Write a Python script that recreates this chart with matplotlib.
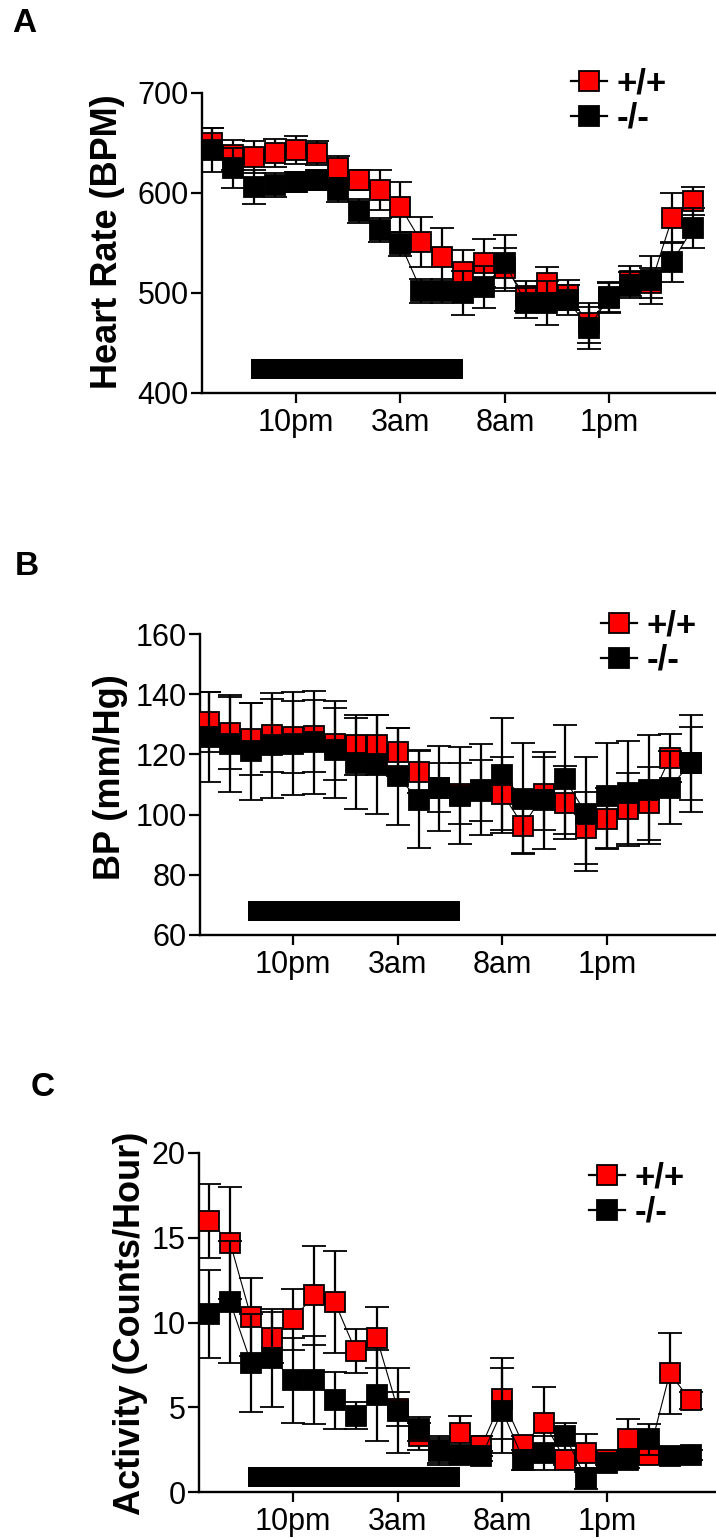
import matplotlib
matplotlib.use("Agg")
import matplotlib.pyplot as plt
from matplotlib.lines import Line2D

plt.rcParams['font.family'] = ['Liberation Sans', 'DejaVu Sans']

# hourly samples, 0 = 6pm ... 23 = 5pm
hours = list(range(24))
tick_pos = [4, 9, 14, 19]
tick_labels = ['10pm', '3am', '8am', '1pm']
night = (1.85, 12.0)   # dark period bar

# Heart rate (BPM)
hr_wt = [650, 638, 636, 640, 643, 640, 625, 613, 603, 586, 551, 536,
         521, 530, 525, 497, 510, 498, 470, 495, 512, 510, 575, 592]
hr_wt_err = [15, 15, 16, 14, 14, 12, 12, 10, 20, 25, 25, 29,
             22, 24, 20, 15, 16, 15, 20, 15, 15, 15, 25, 14]
hr_ko = [643, 625, 606, 608, 611, 613, 603, 582, 563, 549, 502, 502,
         500, 506, 530, 490, 490, 493, 465, 496, 508, 513, 531, 565]
hr_ko_err = [22, 20, 17, 12, 10, 10, 12, 12, 12, 12, 12, 12,
             22, 21, 28, 15, 22, 15, 21, 15, 13, 24, 20, 20]

# Blood pressure (mm/Hg)
bp_wt = [130.7, 127, 125, 126.3, 125.8, 126, 123.5, 123, 123, 120.7, 114.3, 109,
         107, 108, 107, 96.3, 107, 104, 95.5, 98.7, 101.7, 103.7, 118.7, 117]
bp_wt_err = [10, 12, 12, 12, 12, 12, 12, 10, 10, 8, 7, 8,
             10, 10, 12, 9, 12, 12, 12, 10, 12, 12, 8, 12]
bp_ko = [125.7, 123.6, 121, 123, 123.6, 124, 121.6, 117, 116.7, 112.7, 105, 108.7,
         106.3, 108.3, 113, 105.3, 104.7, 111.7, 100.3, 106.3, 107.3, 108.3, 109, 117]
bp_ko_err = [15, 16, 16, 17.5, 17, 17, 16, 15, 16.5, 16, 16, 14,
             16, 15, 19, 18.5, 16, 18, 19, 17.5, 17, 18, 12, 16]

# Activity (counts/hour)
act_wt = [16.0, 14.7, 10.3, 9.1, 10.2, 11.6, 11.2, 8.3, 9.1, 4.9, 3.3, 2.5,
          3.5, 2.7, 5.5, 2.8, 4.1, 1.9, 2.3, 1.9, 3.1, 2.2, 7.0, 5.4]
act_wt_err = [2.2, 3.3, 2.3, 1.5, 1.8, 2.9, 3.0, 1.3, 1.8, 1.0, 0.8, 0.8,
              1.0, 0.6, 2.4, 0.5, 2.1, 0.3, 1.1, 0.3, 1.2, 0.3, 2.4, 0.5]
act_ko = [10.5, 11.2, 7.6, 7.9, 6.6, 6.6, 5.4, 4.5, 5.7, 4.8, 3.7, 2.4,
          2.2, 2.1, 4.8, 1.9, 2.3, 3.3, 0.8, 1.7, 1.9, 3.1, 2.1, 2.2]
act_ko_err = [2.6, 3.6, 2.9, 2.9, 2.5, 2.6, 1.7, 0.8, 2.7, 2.5, 0.7, 0.8,
              0.5, 0.3, 2.5, 0.6, 1.0, 0.8, 0.6, 0.3, 0.5, 0.9, 0.3, 0.3]

W, H = 716, 1538
fig = plt.figure(figsize=(W / 100, H / 100), dpi=100)

ms = 15
cap = 8.5


def panel(rect_px, xlim, ylim, yticks, wt, wt_err, ko, ko_err, bar, ylabel,
          ylabel_xy, letter, letter_xy, legend_xy):
    left, top, right, bottom = rect_px
    ax = fig.add_axes([left / W, 1 - bottom / H, (right - left) / W, (bottom - top) / H])
    ax.set_xlim(*xlim)
    ax.set_ylim(*ylim)
    for s in ['top', 'right']:
        ax.spines[s].set_visible(False)
    for s in ['left', 'bottom']:
        ax.spines[s].set_linewidth(1.7)
    ax.spines['left'].set_bounds(ylim[0], ylim[1])

    ax.plot(hours, wt, color='black', lw=0.8, zorder=2)
    ax.errorbar(hours, wt, yerr=wt_err, fmt='s', ms=ms, mfc='#ff0000', mec='black',
                mew=1.3, ecolor='black', elinewidth=1.6, capsize=cap, capthick=1.6, zorder=3)
    ax.plot(hours, ko, color='black', lw=0.8, zorder=4)
    ax.errorbar(hours, ko, yerr=ko_err, fmt='s', ms=ms, mfc='black', mec='black',
                mew=1.3, ecolor='black', elinewidth=1.6, capsize=cap, capthick=1.6, zorder=5)

    # dark period bar
    ax.barh((bar[0] + bar[1]) / 2, night[1] - night[0], left=night[0],
            height=bar[1] - bar[0], color='black', zorder=1)

    ax.set_yticks(yticks)
    ax.set_xticks(tick_pos)
    ax.set_xticklabels(tick_labels)
    ax.tick_params(axis='y', length=8, width=1.6, pad=1.5, labelsize=22)
    ax.tick_params(axis='x', length=7, width=1.6, pad=4, labelsize=22)

    fig.text(ylabel_xy[0] / W, 1 - ylabel_xy[1] / H, ylabel, rotation=90,
             ha='center', va='center', fontsize=26, fontweight='bold')
    fig.text(letter_xy[0] / W, 1 - letter_xy[1] / H, letter, ha='center', va='center',
             fontsize=24, fontweight='bold')

    handles = [Line2D([0], [0], color='black', lw=1.6, marker='s', ms=ms,
                      mfc='#ff0000', mec='black', mew=1.3),
               Line2D([0], [0], color='black', lw=1.6, marker='s', ms=ms,
                      mfc='black', mec='black', mew=1.3)]
    ax.legend(handles, ['+/+', '-/-'], loc='center left',
              bbox_to_anchor=(legend_xy[0] / W, 1 - legend_xy[1] / H),
              bbox_transform=fig.transFigure, frameon=False,
              prop={'size': 25, 'weight': 'bold'}, handlelength=1.05,
              handletextpad=0.25, labelspacing=0.05, borderpad=0, borderaxespad=0)
    return ax


panel((202, 93, 716, 393), (-0.5, 24.1), (400, 700), [400, 500, 600, 700],
      hr_wt, hr_wt_err, hr_ko, hr_ko_err, (414, 434), 'Heart Rate (BPM)',
      (108, 242), 'A', (24, 24), (571, 101))

panel((200, 634, 716, 935), (-0.44, 24.21), (60, 160), [60, 80, 100, 120, 140, 160],
      bp_wt, bp_wt_err, bp_ko, bp_ko_err, (64.7, 71.3), 'BP (mm/Hg)',
      (110, 777), 'B', (27, 566), (601, 643))

panel((199, 1153, 716, 1492), (-0.49, 24.21), (0, 20), [0, 5, 10, 15, 20],
      act_wt, act_wt_err, act_ko, act_ko_err, (0.3, 1.48), 'Activity (Counts/Hour)',
      (130, 1323), 'C', (43, 1088), (589, 1195))

fig.savefig('out.png', dpi=100)
